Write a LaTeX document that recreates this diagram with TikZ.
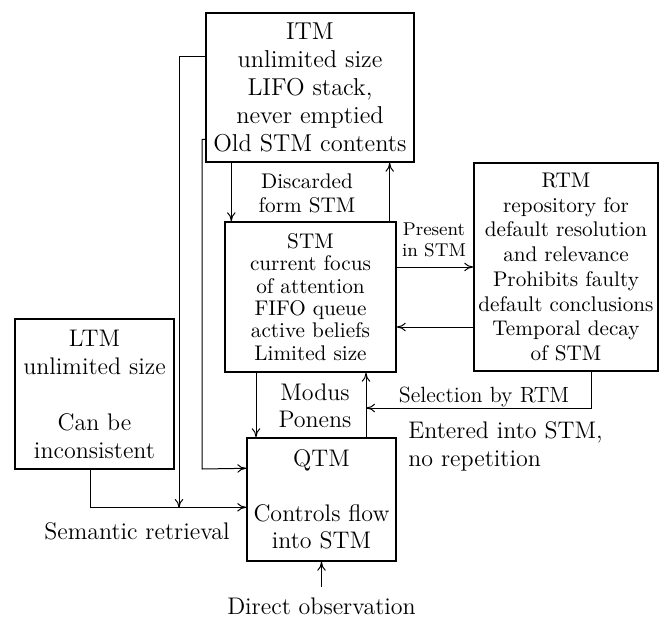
\documentclass[tikz,border=0pt]{standalone}
\usepackage{fontspec}
\usetikzlibrary{arrows.meta}
\begin{document}
\begin{tikzpicture}[x=0.5pt,y=-0.5pt,
  box/.style={draw,line width=0.7pt,align=center,inner sep=0pt},
  lbl/.style={inner sep=0pt},
  arr/.style={line width=0.5pt,-{To[length=4.5pt,width=4.2pt]}}]
\useasboundingbox (0,0) rectangle (666,617);
% boxes
\node[box,minimum width=104pt,minimum height=74.5pt,font=\fontsize{12.2}{14}\selectfont] (ITM) at (310,87.5)
  {ITM\\unlimited size\\LIFO stack,\\never emptied\\Old STM contents};
\node[box,minimum width=85.5pt,minimum height=75pt,font=\fontsize{10.6}{11.2}\selectfont] (STM) at (310.5,297)
  {STM\\current focus\\of attention\\FIFO queue\\active beliefs\\Limited size};
\node[box,minimum width=92pt,minimum height=104pt,font=\fontsize{10.6}{12.35}\selectfont] (RTM) at (566,267)
  {RTM\\repository for\\default resolution\\and relevance\\Prohibits faulty\\default conclusions\\Temporal decay\\of STM};
\node[box,minimum width=79.5pt,minimum height=75pt,font=\fontsize{12}{14}\selectfont] (LTM) at (94.5,394)
  {LTM\\unlimited size\\[14pt]Can be\\inconsistent};
\node[box,minimum width=74.5pt,minimum height=61.5pt,font=\fontsize{12}{13.75}\selectfont] (QTM) at (321.5,499.5)
  {QTM\\[13.75pt]Controls flow\\into STM};
% labels
\node[lbl,align=center,font=\fontsize{10.6}{12}\selectfont] (disc) at (307,193.5) {Discarded\\form STM};
\node[lbl,align=center,font=\fontsize{9.25}{10.5}\selectfont] (pres) at (434,240) {Present\\in STM};
\node[lbl,anchor=base,font=\fontsize{11}{13}\selectfont] (sel) at (484,402) {Selection by RTM};
\node[lbl,align=center,font=\fontsize{12}{13.5}\selectfont] (mp) at (315,406) {Modus\\Ponens};
\node[lbl,align=left,anchor=west,font=\fontsize{12}{14}\selectfont] (ent) at (408,446) {Entered into STM,\\no repetition};
\node[lbl,anchor=base,font=\fontsize{12}{14}\selectfont] (sem) at (137,539) {Semantic retrieval};
\node[lbl,anchor=base,font=\fontsize{12}{14}\selectfont] (obs) at (321.5,614) {Direct observation};
% junctions
\coordinate (j1) at (179,508);
\coordinate (j2) at (202,469);
\coordinate (j3) at (366,408);
% connectors
\draw[arr] ([yshift=-22pt]ITM.north west) -| (j1);
\draw[arr] ([yshift=-63.5pt]ITM.north west) -| (j2) -- ([yshift=-15.5pt]QTM.north west);
\draw[arr] ([xshift=13pt]ITM.south west) -- ([xshift=3.5pt]STM.north west);
\draw[arr] ([xshift=-3.5pt]STM.north east) -- ([xshift=-12.5pt]ITM.south east);
\draw[arr] ([yshift=15pt]STM.east) -- (RTM.west);
\draw[arr] ([yshift=-30pt]RTM.west) -- ([yshift=-15pt]STM.east);
\draw[arr] ([xshift=12.5pt]RTM.south) |- (j3);
\draw[arr] ([xshift=22.25pt]QTM.north) -- ([xshift=27.75pt]STM.south);
\draw[arr] ([xshift=-27.25pt]STM.south) -- ([xshift=-32.75pt]QTM.north);
\draw[arr] ([xshift=-2.25pt]LTM.south) |- ([yshift=-35pt]QTM.north west);
\draw[arr] ([yshift=5pt]obs.north) -- (QTM.south);
\end{tikzpicture}
\end{document}
